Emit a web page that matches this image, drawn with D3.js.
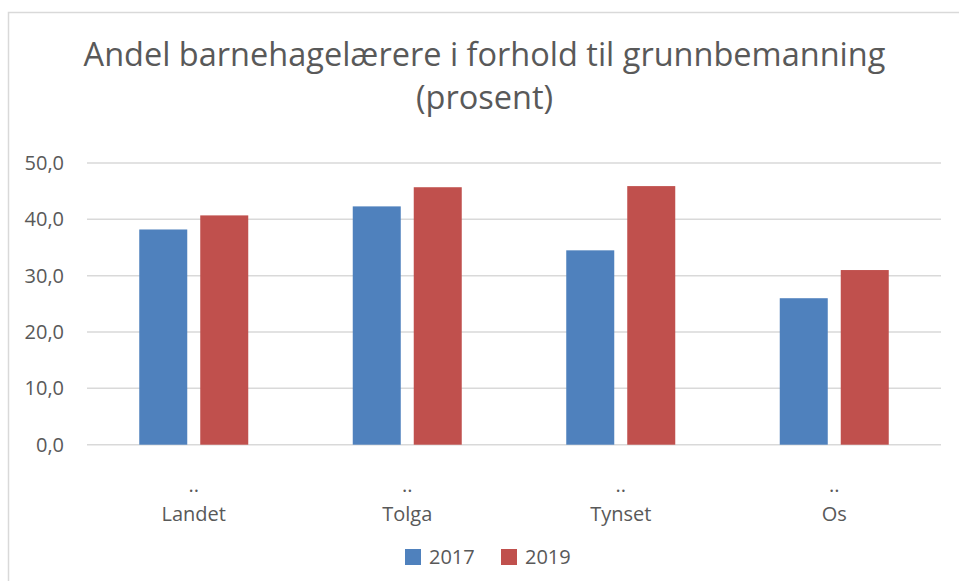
<!DOCTYPE html>
<html>
<head>
<meta charset="utf-8">
<script src="https://cdn.jsdelivr.net/npm/d3@7"></script>
<style>
  html, body { margin: 0; padding: 0; background: #fff; }
  svg { display: block; font-family: "Open Sans", sans-serif; }
</style>
</head>
<body>
<div id="chart"></div>
<script>
// Data
const categories = ['Landet', 'Tolga', 'Tynset', 'Os']
const topLine = ['..', '..', '..', '..']
const series = ['2017', '2019']
const values2017 = [38.2, 42.3, 34.5, 26.0]
const values2019 = [40.7, 45.7, 45.9, 31.0]
const yTicks = [0, 10, 20, 30, 40, 50]
const colors = ['#4F81BD', '#C0504D']
const titleLines = ['Andel barnehagelærere i forhold til grunnbemanning', '(prosent)']

// Layout
const width = 959
const height = 581
const plot = { left: 87, right: 941, top: 163, bottom: 444.7 }
const textColor = '#595959'

const svg = d3.select('#chart')
  .append('svg')
    .attr('width', width)
    .attr('height', height)

// Chart border (runs off the right and bottom edge)
svg.append('rect')
    .attr('x', 8.5)
    .attr('y', 12.5)
    .attr('width', 1000)
    .attr('height', 700)
    .attr('fill', '#fff')
    .attr('stroke', '#d9d9d9')
    .attr('stroke-width', 1.5)

// Title
svg.append('g')
  .selectAll('text')
  .data(titleLines)
  .enter()
  .append('text')
    .attr('x', 484.5)
    .attr('y', (d, i) => 66 + i * 43)
    .attr('text-anchor', 'middle')
    .attr('font-size', 32.5)
    .attr('fill', textColor)
    .text(d => d)

// Scales
const y = d3.scaleLinear().domain([0, 50]).range([plot.bottom, plot.top])
const x0 = d3.scaleBand().domain(categories).range([plot.left, plot.right]).padding(0)
const groupW = 109
const x1 = d3.scaleBand()
  .domain(series)
  .range([(x0.bandwidth() - groupW) / 2, (x0.bandwidth() + groupW) / 2])
  .paddingInner(0.213)

// Gridlines
svg.append('g')
  .selectAll('line')
  .data(yTicks)
  .enter()
  .append('line')
    .attr('x1', plot.left)
    .attr('x2', plot.right)
    .attr('y1', d => y(d))
    .attr('y2', d => y(d))
    .attr('stroke', '#d9d9d9')
    .attr('stroke-width', 1.5)

// Y axis labels
const fmt = d => d3.format('.1f')(d).replace('.', ',')
const yAxis = svg.append('g')
    .attr('transform', `translate(${plot.left},0)`)
    .call(d3.axisLeft(y).tickValues(yTicks).tickFormat(fmt).tickSize(0).tickPadding(23))
yAxis.select('.domain').remove()
yAxis.selectAll('text')
    .attr('font-size', 20)
    .attr('font-family', '"Open Sans", sans-serif')
    .attr('fill', textColor)

// Bars
const rows = categories.map((c, i) => ({ cat: c, vals: [values2017[i], values2019[i]] }))
const groups = svg.append('g')
  .selectAll('g')
  .data(rows)
  .enter()
  .append('g')
    .attr('transform', d => `translate(${x0(d.cat)},0)`)

groups.selectAll('rect')
  .data(d => d.vals.map((v, j) => ({ key: series[j], v, j })))
  .enter()
  .append('rect')
    .attr('x', d => x1(d.key))
    .attr('y', d => y(d.v))
    .attr('width', x1.bandwidth())
    .attr('height', d => y(0) - y(d.v))
    .attr('fill', d => colors[d.j])

// X labels (two lines)
const xLab = svg.append('g')
  .selectAll('text')
  .data(categories)
  .enter()
  .append('text')
    .attr('text-anchor', 'middle')
    .attr('font-size', 20)
    .attr('fill', textColor)
xLab.append('tspan')
    .attr('x', d => x0(d) + x0.bandwidth() / 2)
    .attr('y', 492)
    .text((d, i) => topLine[i])
xLab.append('tspan')
    .attr('x', d => x0(d) + x0.bandwidth() / 2)
    .attr('y', 521)
    .text(d => d)

// Legend
const legendX = [405, 501]
const legend = svg.append('g')
  .selectAll('g')
  .data(series)
  .enter()
  .append('g')
    .attr('transform', (d, i) => `translate(${legendX[i]},549)`)
legend.append('rect')
    .attr('width', 16)
    .attr('height', 16)
    .attr('fill', (d, i) => colors[i])
legend.append('text')
    .attr('x', 24)
    .attr('y', 15)
    .attr('font-size', 20)
    .attr('fill', textColor)
    .text(d => d)
</script>
</body>
</html>
